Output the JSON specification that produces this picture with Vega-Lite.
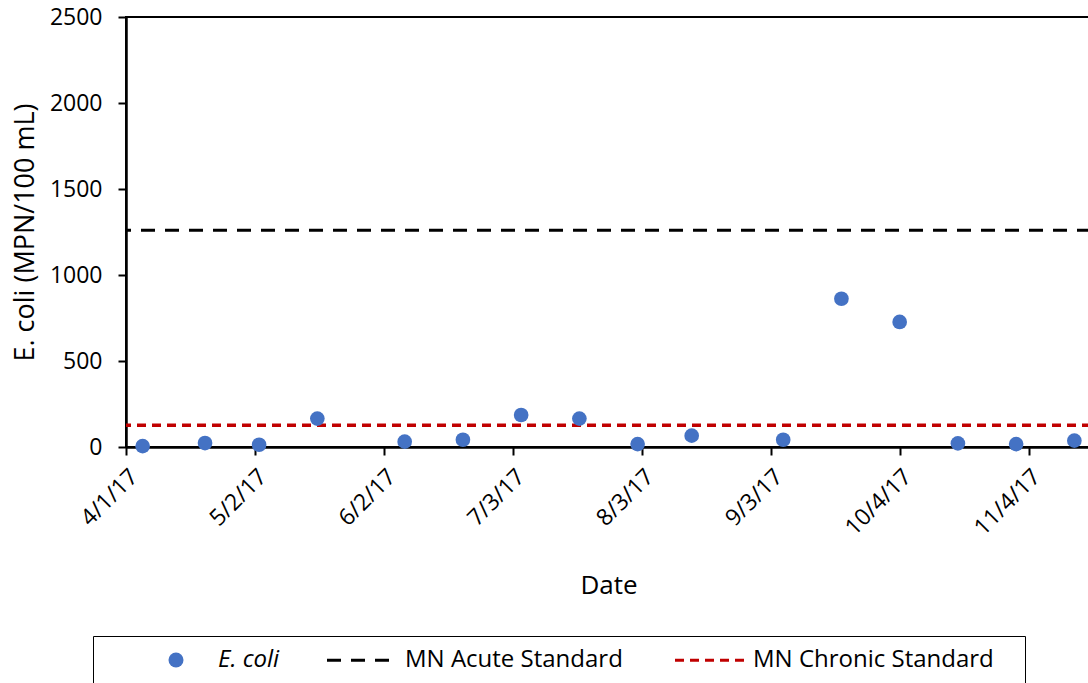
{
  "$schema": "https://vega.github.io/schema/vega-lite/v6.json",
  "width": 965,
  "height": 430,
  "autosize": {"type": "none"},
  "padding": {"left": 126, "top": 17, "right": 0, "bottom": 236},
  "background": "white",
  "config": {
    "font": "Open Sans",
    "view": {"stroke": "black", "strokeWidth": 2},
    "axis": {
      "domainColor": "black",
      "domainWidth": 2.5,
      "tickColor": "black",
      "tickWidth": 2,
      "tickSize": 8,
      "grid": false,
      "labelColor": "black",
      "titleColor": "black",
      "titleFontWeight": "normal",
      "labelFontSize": 23,
      "titleFontSize": 26
    }
  },
  "datasets": {
    "obs": [
      {"date": "2017-04-05T00:00:00", "ecoli": 5, "series": "E. coli"},
      {"date": "2017-04-20T00:00:00", "ecoli": 23, "series": "E. coli"},
      {"date": "2017-05-03T00:00:00", "ecoli": 13, "series": "E. coli"},
      {"date": "2017-05-17T00:00:00", "ecoli": 165, "series": "E. coli"},
      {"date": "2017-06-07T00:00:00", "ecoli": 31, "series": "E. coli"},
      {"date": "2017-06-21T00:00:00", "ecoli": 42, "series": "E. coli"},
      {"date": "2017-07-05T00:00:00", "ecoli": 186, "series": "E. coli"},
      {"date": "2017-07-19T00:00:00", "ecoli": 165, "series": "E. coli"},
      {"date": "2017-08-02T00:00:00", "ecoli": 17, "series": "E. coli"},
      {"date": "2017-08-15T00:00:00", "ecoli": 66, "series": "E. coli"},
      {"date": "2017-09-06T00:00:00", "ecoli": 42, "series": "E. coli"},
      {"date": "2017-09-20T00:00:00", "ecoli": 862, "series": "E. coli"},
      {"date": "2017-10-04T00:00:00", "ecoli": 727, "series": "E. coli"},
      {"date": "2017-10-18T00:00:00", "ecoli": 21, "series": "E. coli"},
      {"date": "2017-11-01T00:00:00", "ecoli": 17, "series": "E. coli"},
      {"date": "2017-11-15T00:00:00", "ecoli": 37, "series": "E. coli"}
    ],
    "std": [
      {"series": "MN Acute Standard", "value": 1260},
      {"series": "MN Chronic Standard", "value": 126}
    ]
  },
  "layer": [
    {
      "data": {"name": "std"},
      "transform": [{"filter": "datum.series === 'MN Acute Standard'"}],
      "mark": {"type": "rule", "strokeWidth": 3},
      "encoding": {
        "y": {"field": "value", "type": "quantitative", "scale": {"domain": [0, 2500], "nice": false}},
        "stroke": {
          "field": "series",
          "type": "nominal",
          "scale": {"domain": ["MN Acute Standard", "MN Chronic Standard"], "range": ["#000000", "#C00000"]},
          "legend": {
            "orient": "none", "legendX": 199.5, "legendY": 606.5, "direction": "horizontal",
            "title": null, "padding": 0, "symbolType": "stroke", "symbolSize": 4900, "symbolStrokeWidth": 3,
            "labelFontSize": 24, "labelColor": "black", "labelLimit": 600, "labelOffset": 6.5, "columnPadding": 45
          }
        },
        "strokeDash": {
          "field": "series",
          "type": "nominal",
          "scale": {"domain": ["MN Acute Standard", "MN Chronic Standard"], "range": [[14, 10], [9, 6]]},
          "legend": {
            "orient": "none", "legendX": 199.5, "legendY": 606.5, "direction": "horizontal",
            "title": null, "padding": 0, "symbolType": "stroke", "symbolSize": 4900, "symbolStrokeWidth": 3,
            "labelFontSize": 24, "labelColor": "black", "labelLimit": 600, "labelOffset": 6.5, "columnPadding": 45
          }
        }
      }
    },
    {
      "data": {"name": "std"},
      "transform": [{"filter": "datum.series === 'MN Chronic Standard'"}],
      "mark": {"type": "rule", "strokeWidth": 3.5},
      "encoding": {
        "y": {"field": "value", "type": "quantitative", "scale": {"domain": [0, 2500], "nice": false}},
        "stroke": {
          "field": "series",
          "type": "nominal",
          "scale": {"domain": ["MN Acute Standard", "MN Chronic Standard"], "range": ["#000000", "#C00000"]},
          "legend": {
            "orient": "none", "legendX": 199.5, "legendY": 606.5, "direction": "horizontal",
            "title": null, "padding": 0, "symbolType": "stroke", "symbolSize": 4900, "symbolStrokeWidth": 3,
            "labelFontSize": 24, "labelColor": "black", "labelLimit": 600, "labelOffset": 6.5, "columnPadding": 45
          }
        },
        "strokeDash": {
          "field": "series",
          "type": "nominal",
          "scale": {"domain": ["MN Acute Standard", "MN Chronic Standard"], "range": [[14, 10], [9, 6]]},
          "legend": {
            "orient": "none", "legendX": 199.5, "legendY": 606.5, "direction": "horizontal",
            "title": null, "padding": 0, "symbolType": "stroke", "symbolSize": 4900, "symbolStrokeWidth": 3,
            "labelFontSize": 24, "labelColor": "black", "labelLimit": 600, "labelOffset": 6.5, "columnPadding": 45
          }
        }
      }
    },
    {
      "data": {"name": "obs"},
      "mark": {"type": "point", "filled": true, "size": 215, "opacity": 1},
      "encoding": {
        "x": {
          "field": "date",
          "type": "temporal",
          "scale": {
            "domain": [{"year": 2017, "month": 4, "date": 1}, {"year": 2017, "month": 11, "date": 19}],
            "nice": false
          },
          "axis": {
            "title": "Date",
            "format": "%-m/%-d/%y",
            "labelAngle": -45,
            "labelPadding": 10,
            "titlePadding": 33,
            "values": [
              {"year": 2017, "month": 4, "date": 1},
              {"year": 2017, "month": 5, "date": 2},
              {"year": 2017, "month": 6, "date": 2},
              {"year": 2017, "month": 7, "date": 3},
              {"year": 2017, "month": 8, "date": 3},
              {"year": 2017, "month": 9, "date": 3},
              {"year": 2017, "month": 10, "date": 4},
              {"year": 2017, "month": 11, "date": 4}
            ]
          }
        },
        "y": {
          "field": "ecoli",
          "type": "quantitative",
          "scale": {"domain": [0, 2500], "nice": false},
          "axis": {
            "title": "E. coli (MPN/100 mL)",
            "format": "d",
            "values": [0, 500, 1000, 1500, 2000, 2500],
            "labelPadding": 16,
            "titlePadding": 10,
            "titleFontSize": 27
          }
        },
        "fill": {
          "field": "series",
          "type": "nominal",
          "scale": {"domain": ["E. coli"], "range": ["#4472C4"]},
          "legend": {
            "orient": "none", "legendX": -33, "legendY": 619, "direction": "horizontal",
            "title": " ", "titleOrient": "right", "titleFontSize": 1, "titlePadding": 734,
            "padding": 12, "strokeColor": "black",
            "symbolType": "circle", "symbolSize": 225, "symbolStrokeWidth": 0, "symbolOffset": 59,
            "labelFontSize": 24, "labelFontStyle": "italic", "labelColor": "black", "labelLimit": 600, "labelOffset": 30
          }
        }
      }
    }
  ]
}
